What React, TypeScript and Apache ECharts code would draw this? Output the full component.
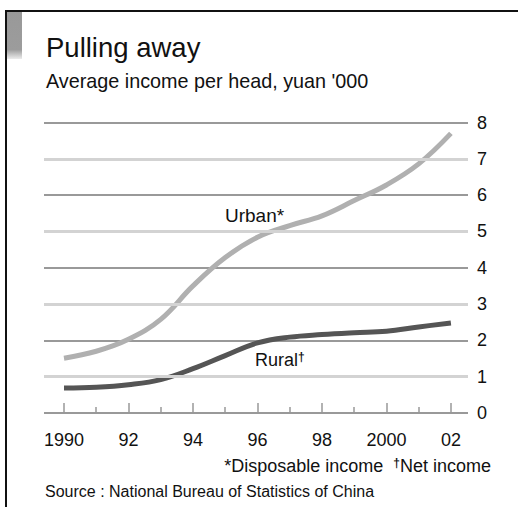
import React, { useEffect, useRef } from "react";
import * as echarts from "echarts";

const years = [1990, 1991, 1992, 1993, 1994, 1995, 1996, 1997, 1998, 1999, 2000, 2001, 2002];
const urban = [1.51, 1.70, 2.03, 2.58, 3.50, 4.28, 4.84, 5.16, 5.43, 5.85, 6.28, 6.86, 7.70];
const rural = [0.69, 0.71, 0.78, 0.92, 1.22, 1.58, 1.93, 2.09, 2.16, 2.21, 2.25, 2.37, 2.48];
const labelYears = [1990, 1992, 1994, 1996, 1998, 2000, 2002];
const minorYears = [1991, 1993, 1995, 1997, 1999, 2001];
const lightGrid = [1, 3, 5, 7];

const FONT = "'Liberation Sans', Arial, Helvetica, sans-serif";

export default function App() {
  const ref = useRef<HTMLDivElement>(null);
  useEffect(() => {
    if (!ref.current) return;
    const chart = echarts.init(ref.current, undefined, { renderer: "svg" });
    const fmt = (v: number) => (v === 1990 || v === 2000 ? String(v) : String(v % 100).padStart(2, "0"));
    chart.setOption({
      animation: false,
      backgroundColor: "#fff",
      textStyle: { fontFamily: FONT },
      grid: { left: 44, right: 50, top: 122.5, bottom: 94 },
      xAxis: [
        {
          type: "value",
          min: 1989.38,
          max: 2002.53,
          axisLine: { show: false },
          splitLine: { show: false },
          axisTick: {
            show: true,
            inside: true,
            length: 10,
            customValues: labelYears,
            lineStyle: { color: "#999", width: 1.5 },
          },
          axisLabel: {
            customValues: labelYears,
            formatter: fmt,
            fontSize: 18,
            color: "#111",
            margin: 18,
            fontFamily: FONT,
          },
        },
        {
          type: "value",
          min: 1989.38,
          max: 2002.53,
          position: "bottom",
          axisLine: { show: false },
          splitLine: { show: false },
          axisTick: {
            show: true,
            inside: true,
            length: 6,
            customValues: minorYears,
            lineStyle: { color: "#999", width: 1.5 },
          },
          axisLabel: { show: false },
        },
      ],
      yAxis: {
        type: "value",
        position: "right",
        min: 0,
        max: 8,
        interval: 1,
        axisLine: { show: false },
        axisTick: { show: false },
        axisLabel: { fontSize: 18, color: "#111", margin: 9, fontFamily: FONT },
        splitLine: { show: true, lineStyle: { color: ["#999", "rgba(0,0,0,0)"], width: 2 } },
      },
      series: [
        {
          type: "line",
          data: [],
          z: 1,
          silent: true,
          markLine: {
            silent: true,
            symbol: "none",
            label: { show: false },
            lineStyle: { color: "#d3d3d3", width: 3, type: "solid" },
            data: lightGrid.map((v) => ({ yAxis: v })),
          },
        },
        {
          name: "Urban",
          type: "line",
          z: 3,
          smooth: 0.4,
          showSymbol: false,
          lineStyle: { color: "#b0b0b0", width: 5 },
          data: years.map((y, i) => [y, urban[i]]),
        },
        {
          name: "Rural",
          type: "line",
          z: 3,
          smooth: 0.4,
          showSymbol: false,
          lineStyle: { color: "#555", width: 5 },
          data: years.map((y, i) => [y, rural[i]]),
        },
      ],
      graphic: [
        { type: "line", shape: { x1: 5, y1: 11, x2: 518, y2: 11 }, style: { stroke: "#111", lineWidth: 2 } },
        { type: "line", shape: { x1: 6, y1: 10, x2: 6, y2: 507 }, style: { stroke: "#111", lineWidth: 2 } },
        {
          type: "rect",
          shape: { x: 7, y: 12, width: 15, height: 47 },
          style: {
            fill: new echarts.graphic.LinearGradient(0, 0, 0, 1, [
              { offset: 0, color: "#999" },
              { offset: 0.8, color: "#9c9c9c" },
              { offset: 1, color: "rgba(160,160,160,0.2)" },
            ]),
          },
        },
        {
          type: "text",
          left: 46,
          top: 33,
          style: { text: "Pulling away", font: `27.5px ${FONT}`, fill: "#111" },
        },
        {
          type: "text",
          left: 46,
          top: 71,
          style: { text: "Average income per head, yuan '000", font: `19.8px ${FONT}`, fill: "#111" },
        },
        {
          type: "text",
          left: 225,
          top: 206,
          style: { text: "Urban*", font: `19px ${FONT}`, fill: "#111" },
        },
        {
          type: "text",
          left: 255,
          top: 351,
          style: {
            text: "{a|Rural}{b|†}",
            rich: {
              a: { fontSize: 18, fontFamily: FONT, fill: "#111", verticalAlign: "bottom" },
              b: { fontSize: 12, fontFamily: FONT, fill: "#111", fontWeight: "bold", verticalAlign: "top" },
            },
          },
        },
        {
          type: "text",
          right: 27,
          top: 457,
          style: {
            text: "{a|*Disposable income  }{b|†}{a|Net income}",
            rich: {
              a: { fontSize: 18, fontFamily: FONT, fill: "#111" },
              b: { fontSize: 12, fontFamily: FONT, fill: "#111", fontWeight: "bold", verticalAlign: "top" },
            },
          },
        },
        {
          type: "text",
          left: 45,
          top: 483,
          style: { text: "Source : National Bureau of Statistics of China", font: `16px ${FONT}`, fill: "#111" },
        },
      ],
    });
    return () => chart.dispose();
  }, []);
  return <div ref={ref} style={{ position: "fixed", left: 0, top: 0, width: 518, height: 507 }} />;
}
